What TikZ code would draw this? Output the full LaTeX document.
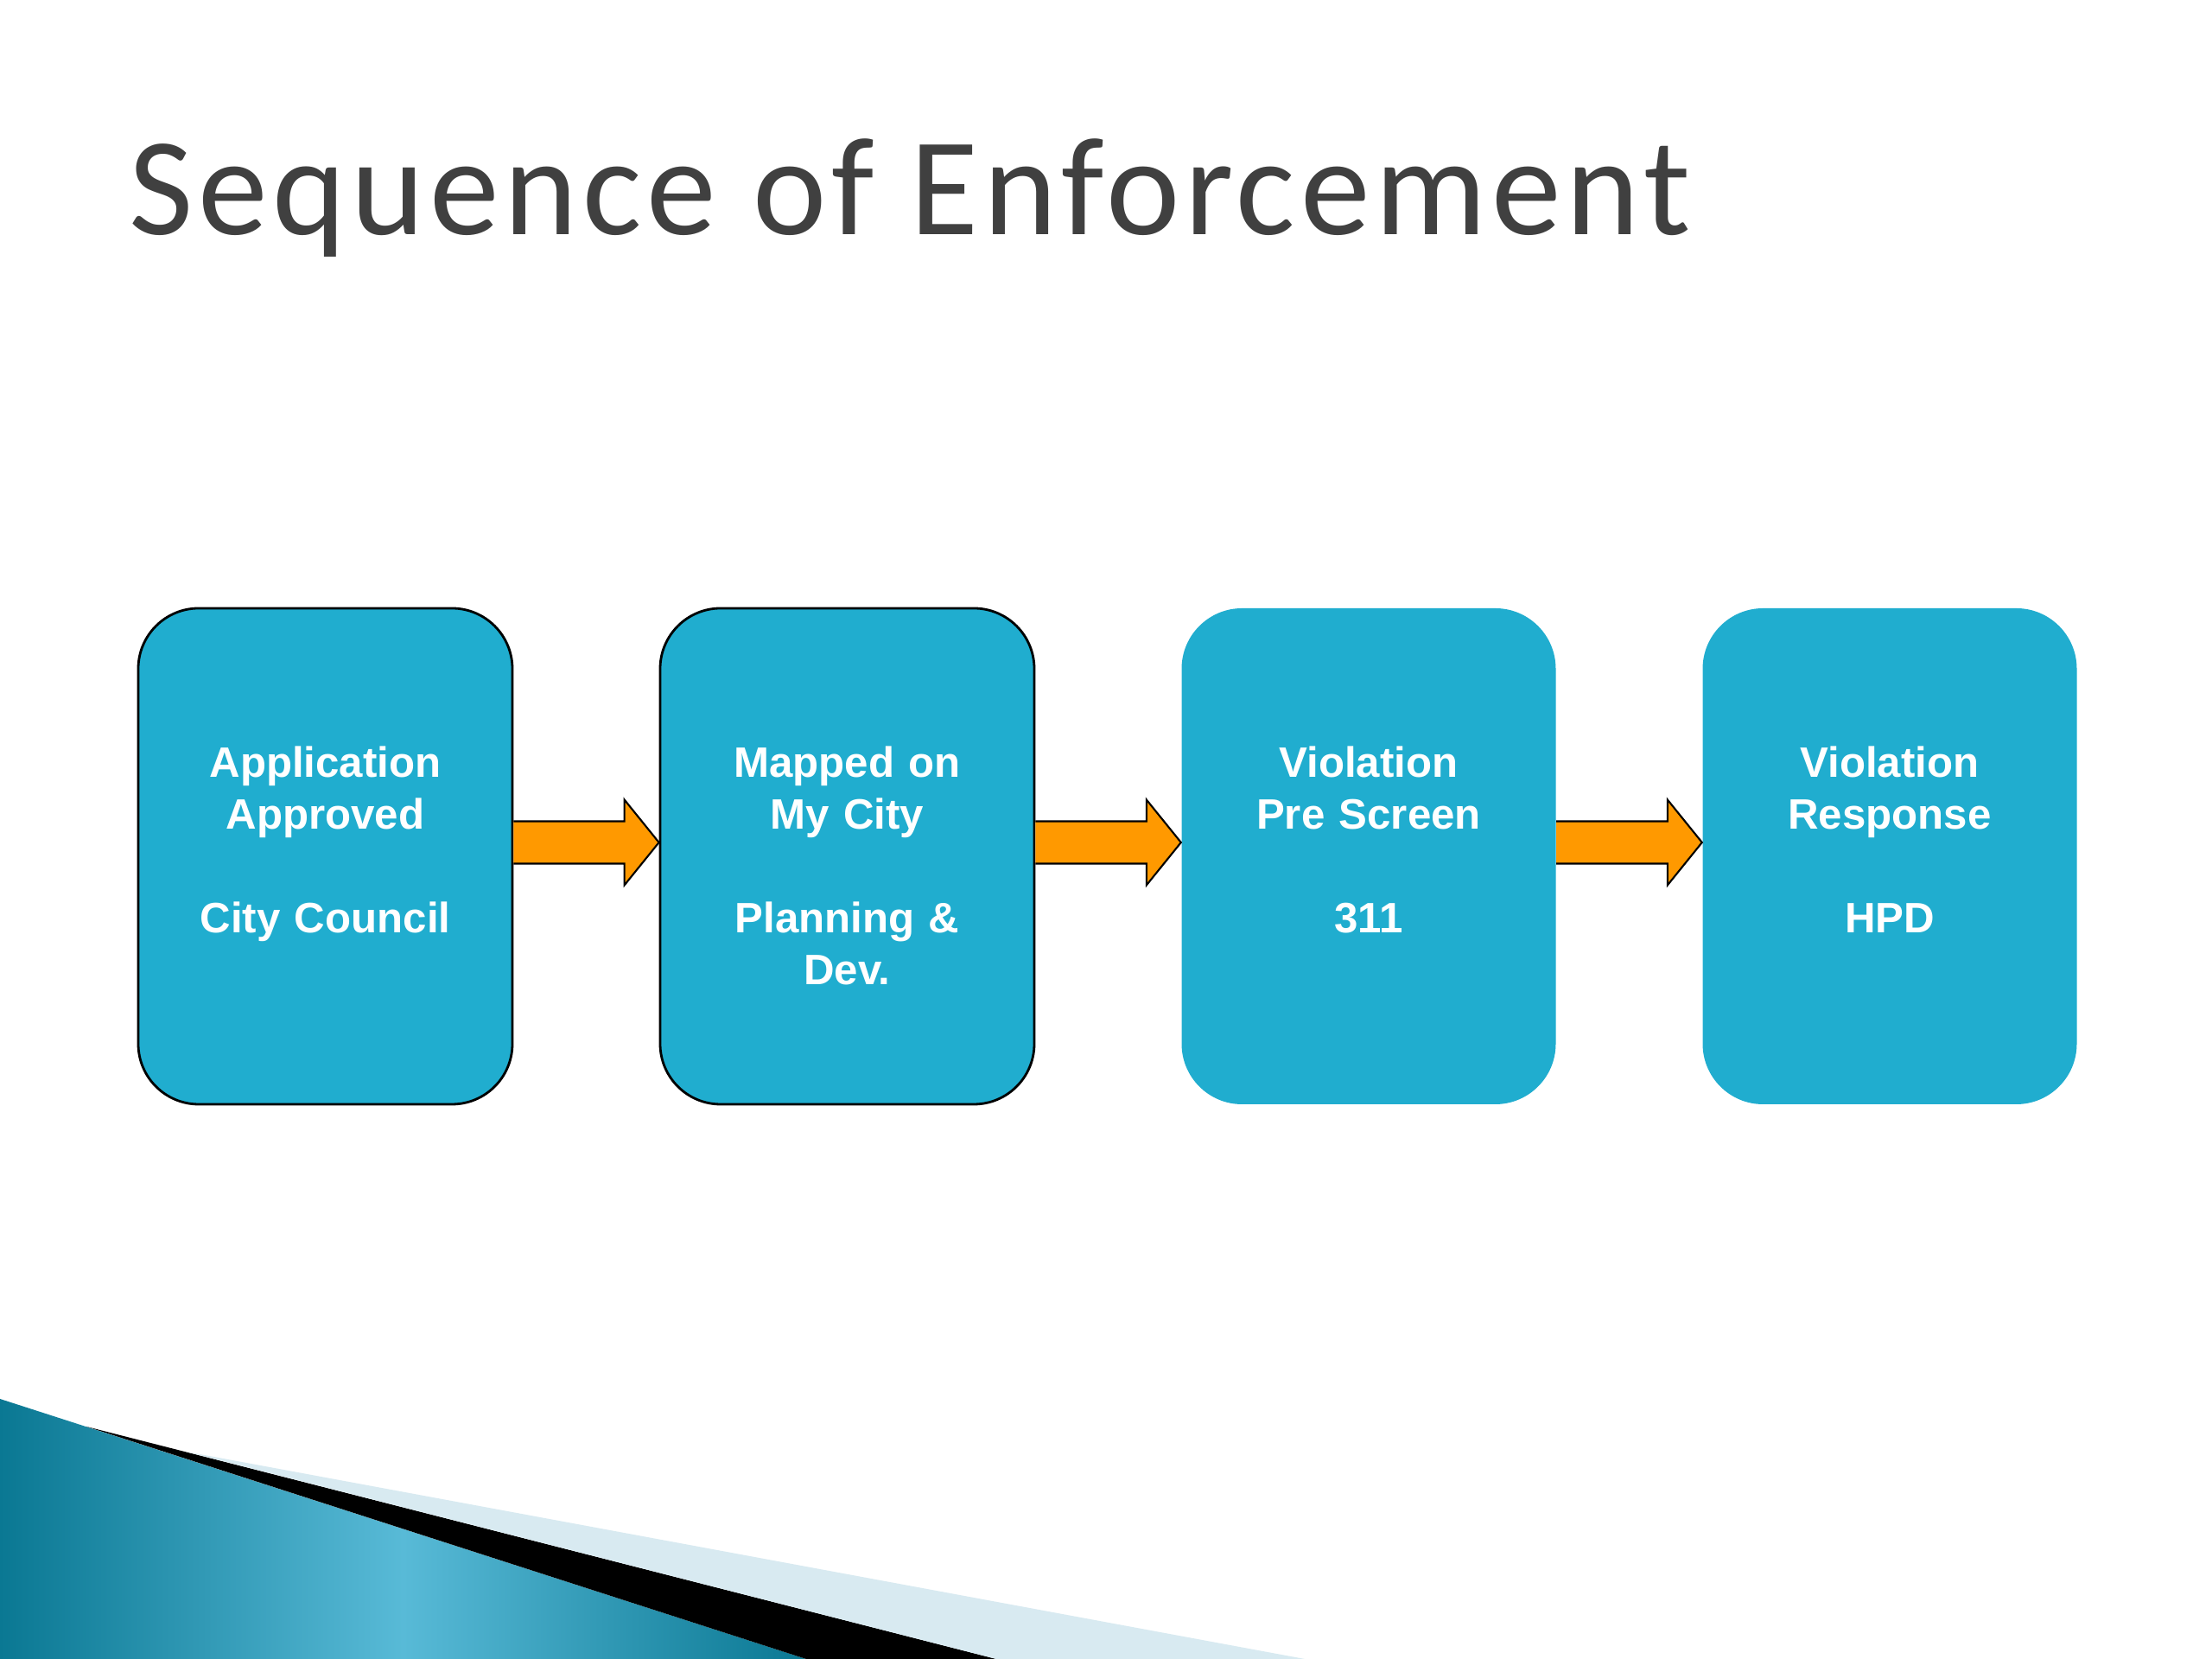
\documentclass[tikz,border=0pt]{standalone}
\usepackage{fontspec}
\setmainfont{Liberation Sans}
\newfontfamily\titlefont[LetterSpace=3.6]{Carlito}
\usepackage{xcolor}
\usepackage{tikz}
\usetikzlibrary{calc}
\usetikzlibrary{positioning}
\definecolor{boxblue}{HTML}{20ADCF}
\definecolor{arroworange}{HTML}{FF9900}
\definecolor{titlegray}{HTML}{404040}
\definecolor{stripeteal}{HTML}{0A7893}
\definecolor{stripelight}{HTML}{58BAD7}
\definecolor{stripepale}{HTML}{D8EAF1}

\tikzset{
  stepbox/.style={fill=boxblue, rounded corners=0.7cm, minimum width=4.33cm,
    minimum height=5.74cm, inner sep=0pt, text=white, text width=4.33cm,
    align=center, font=\bfseries\fontsize{14}{17.07}\selectfont,
    execute at begin node={\rule{0pt}{0.58cm}}},
  flow/.style={fill=arroworange, draw=black, line width=0.6pt},
}

% block arrow from the east side of #1 to the west side of #2
\newcommand{\blockarrow}[2]{%
  \filldraw[flow] ($(#1.east)+(0,0.405)$) -- ($(#2.west)+(-0.40,0.405)$)
    -- ($(#2.west)+(-0.40,0.655)$) -- ($(#2.west)+(0,0.16)$)
    -- ($(#2.west)+(-0.40,-0.335)$) -- ($(#2.west)+(-0.40,-0.085)$)
    -- ($(#1.east)+(0,-0.085)$);}

\begin{document}
\begin{tikzpicture}
    \path[fill=white] (0,0) rectangle (25.6,19.2);
    \useasboundingbox (0,0) rectangle (25.6,19.2);

    % corner stripes
    \shade[left color=stripeteal, right color=stripeteal, middle color=stripelight]
      (0,3.01) -- (9.33,0) -- (0,0) -- cycle;
    \fill[black] (1.00,2.69) -- (11.53,0) -- (9.33,0) -- cycle;
    \fill[stripepale] (2.15,2.40) -- (15.10,0) -- (11.53,0) -- cycle;

    \node[anchor=base west, text=titlegray, font=\titlefont\fontsize{46}{55}\selectfont]
      (T) at (1.37,16.48) {Sequence of Enforcement};

    \node[stepbox, draw=black, line width=0.8pt] (A) at (3.765,9.29)
      {Application\\Approved\\\mbox{}\\City Council\\\mbox{}};
    \node[stepbox, draw=black, line width=0.8pt] (B) at (9.805,9.29)
      {Mapped on\\My City\\\mbox{}\\Planning \&\\Dev.};
    \node[stepbox] (C) at (15.84,9.29)
      {Violation\\Pre Screen\\\mbox{}\\311\\\mbox{}};
    \node[stepbox] (D) at (21.87,9.29)
      {Violation\\Response\\\mbox{}\\HPD\\\mbox{}};

    \blockarrow{A}{B}
    \blockarrow{B}{C}
    \blockarrow{C}{D}
  \end{tikzpicture}
\end{document}
